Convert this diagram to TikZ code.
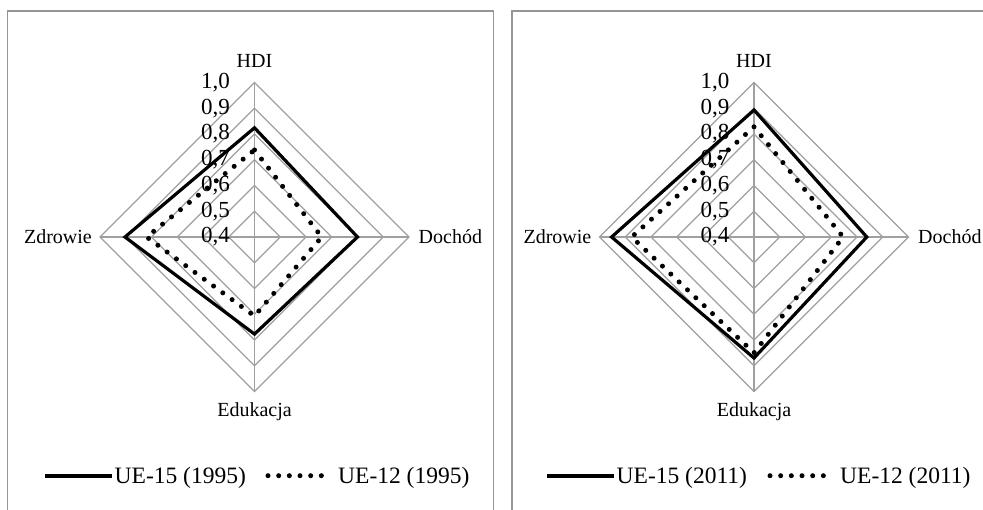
\documentclass[tikz,border=0pt]{standalone}
\usepackage{fontspec}
\setmainfont{Liberation Serif}
\usetikzlibrary{positioning}
\definecolor{grid}{RGB}{160,160,160}
\definecolor{frame}{RGB}{150,150,150}

\begin{document}
\begin{tikzpicture}[x=1pt, y=1pt]
		% Define elements
		\tikzstyle{ring} = [draw=grid, line width=1.3pt]
		\tikzstyle{box} = [draw=frame, line width=1.5pt]
		\tikzstyle{ue15} = [draw=black, line width=3.2pt, line join=miter]
		\tikzstyle{ue12} = [draw=black, line width=5pt, line cap=round, dash pattern=on 0pt off 11.5pt]
		\tikzstyle{axis} = [inner sep=0pt, font=\fontsize{20}{22}\selectfont]
		\tikzstyle{tick} = [inner sep=0pt, anchor=east, font=\fontsize{23}{25}\selectfont]
		\tikzstyle{legtext} = [inner sep=0pt, font=\fontsize{23.5}{26}\selectfont]
		\useasboundingbox (0,0) rectangle (983,509);
		\fill [white] (0,0) rectangle (983,509);

		%% Frames
		\draw [box] (7.7,-5) -- (7.7,498) -- (493.3,498) -- (493.3,-5);
		\draw [box] (512,-5) -- (512,498) -- (990,498);

		%% 1995
		\begin{scope}[shift={(254.5,272)}, x=257.5pt, y=257.5pt]
			\foreach \r in {1,...,6}
				\draw [ring] (0,\r/10) -- (\r/10,0) -- (0,-\r/10) -- (-\r/10,0) -- cycle;
			\draw [ring] (0,0.6) -- (0,-0.6) (-0.6,0) -- (0.6,0);
			\foreach \t [count=\i from 0] in {{0,4},{0,5},{0,6},{0,7},{0,8},{0,9},{1,0}}
				\node [tick, xshift=-24.5pt] at (0,\i/10) {\t};
			\coordinate (top1) at (0,0.6);
			\coordinate (right1) at (0.6,0);
			\coordinate (bottom1) at (0,-0.6);
			\coordinate (left1) at (-0.6,0);
			\node [name = hdi1, axis, above=14.5pt of top1] {HDI};
			\node [name = doch1, axis, right=9.5pt of right1] {Dochód};
			\node [name = eduk1, axis, below=11pt of bottom1] {Edukacja};
			\node [name = zdro1, axis, left=8pt of left1] {Zdrowie};
			% data
			\draw [ue15] (0,0.424) -- (0.400,0) -- (0,-0.377) -- (-0.503,0) -- cycle;
			\draw [ue12] (0,0.338) -- (0.261,0) -- (0,-0.307) -- (-0.419,0) -- cycle;
		\end{scope}

		%% 2011
		\begin{scope}[shift={(754,272)}, x=257.5pt, y=257.5pt]
			\foreach \r in {1,...,6}
				\draw [ring] (0,\r/10) -- (\r/10,0) -- (0,-\r/10) -- (-\r/10,0) -- cycle;
			\draw [ring] (0,0.6) -- (0,-0.6) (-0.6,0) -- (0.6,0);
			\foreach \t [count=\i from 0] in {{0,4},{0,5},{0,6},{0,7},{0,8},{0,9},{1,0}}
				\node [tick, xshift=-24.5pt] at (0,\i/10) {\t};
			\coordinate (top2) at (0,0.6);
			\coordinate (right2) at (0.6,0);
			\coordinate (bottom2) at (0,-0.6);
			\coordinate (left2) at (-0.6,0);
			\node [name = hdi2, axis, above=14.5pt of top2] {HDI};
			\node [name = doch2, axis, right=9.5pt of right2] {Dochód};
			\node [name = eduk2, axis, below=11pt of bottom2] {Edukacja};
			\node [name = zdro2, axis, left=8pt of left2] {Zdrowie};
			% data
			\draw [ue15] (0,0.493) -- (0.438,0) -- (0,-0.470) -- (-0.553,0) -- cycle;
			\draw [ue12] (0,0.428) -- (0.346,0) -- (0,-0.450) -- (-0.475,0) -- cycle;
		\end{scope}

		%% Legends
		\coordinate (sa1) at (45,33.3);
		\coordinate (sb1) at (112,33.3);
		\coordinate (da1) at (268,33.3);
		\coordinate (db1) at (332,33.3);
		\draw [ue15, line width=3.6pt] (sa1) -- (sb1);
		\node [name = leg151, legtext, right=2.5pt of sb1, yshift=-2.5pt] {UE-15 (1995)};
		\draw [ue12, dash pattern=on 0pt off 10.67pt] (da1) -- (db1);
		\node [name = leg121, legtext, right=6pt of db1, yshift=-2.5pt] {UE-12 (1995)};

		\coordinate (sa2) at (547,33.3);
		\coordinate (sb2) at (614,33.3);
		\coordinate (da2) at (770,33.3);
		\coordinate (db2) at (834,33.3);
		\draw [ue15, line width=3.6pt] (sa2) -- (sb2);
		\node [name = leg152, legtext, right=2.5pt of sb2, yshift=-2.5pt] {UE-15 (2011)};
		\draw [ue12, dash pattern=on 0pt off 10.67pt] (da2) -- (db2);
		\node [name = leg122, legtext, right=6pt of db2, yshift=-2.5pt] {UE-12 (2011)};
	\end{tikzpicture}
\end{document}
